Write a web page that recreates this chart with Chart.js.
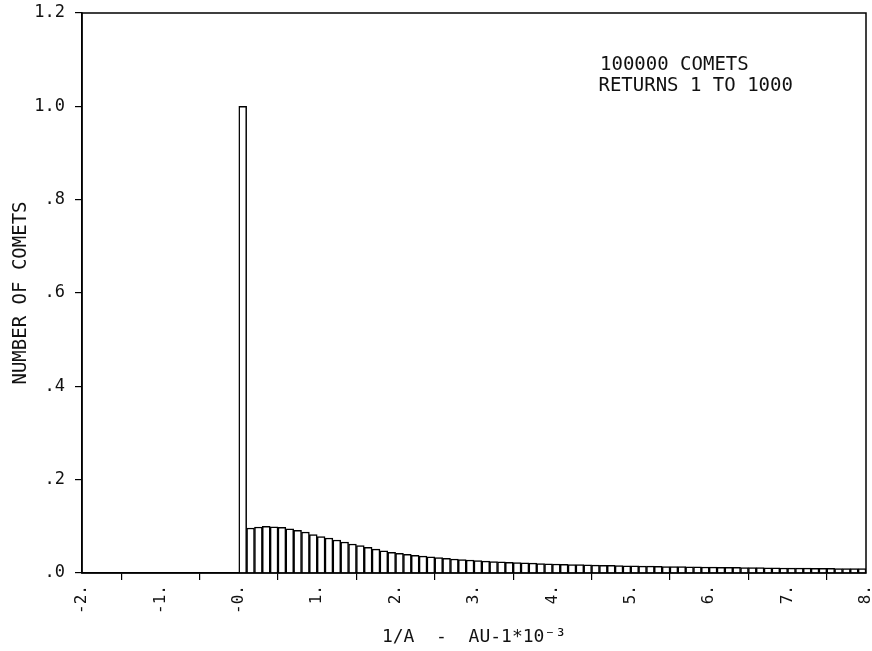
<!DOCTYPE html>
<html>
<head>
<meta charset="utf-8">
<script src="https://cdn.jsdelivr.net/npm/chart.js@4.4.0/dist/chart.umd.min.js"></script>
<style>
    html, body { margin: 0; padding: 0; background: #fff; }
    #wrap { width: 872px; height: 651px; }
</style>
</head>
<body>
<div id="wrap"><canvas id="myChart" width="872" height="651"></canvas></div>
<script>
// bins of 1/a, width 0.1 (AU^-1 * 10^-3), first bin starts at 0
var binStart = 0.0;
var binWidth = 0.1;
var counts = [
    1.000,
    0.0964, 0.0986, 0.0999, 0.0992, 0.0978, 0.0949, 0.0914, 0.0878, 0.0821,
    0.0778, 0.0750, 0.0707, 0.0664, 0.0621, 0.0585, 0.0550, 0.0510, 0.0475, 0.0445,
    0.0420, 0.0400, 0.0378, 0.0362, 0.0348, 0.0330, 0.0315, 0.0300, 0.0290, 0.0278,
    0.0265, 0.0255, 0.0246, 0.0238, 0.0230, 0.0223, 0.0216, 0.0210, 0.0204, 0.0198,
    0.0193, 0.0188, 0.0183, 0.0178, 0.0174, 0.0170, 0.0166, 0.0162, 0.0158, 0.0155,
    0.0152, 0.0149, 0.0146, 0.0143, 0.0140, 0.0137, 0.0135, 0.0133, 0.0130, 0.0128,
    0.0126, 0.0124, 0.0122, 0.0120, 0.0118, 0.0116, 0.0114, 0.0112, 0.0110, 0.0108,
    0.0106, 0.0104, 0.0103, 0.0101, 0.0100, 0.0098, 0.0097, 0.0096, 0.0094, 0.0093
];
var xTicks = [-2, -1, 0, 1, 2, 3, 4, 5, 6, 7, 8];
var yTicks = [0, 0.2, 0.4, 0.6, 0.8, 1.0, 1.2];
var noteLines = ["100000 COMETS", " RETURNS 1 TO 1000"];

var FONT = "'DejaVu Sans Mono', monospace";

var points = counts.map(function (c, i) {
    return { x: binStart + binWidth * (i + 0.5), y: c };
});

// frame round the plot + the text box in the upper right
var framePlugin = {
    id: 'frame',
    afterDraw: function (chart) {
        var a = chart.chartArea;
        var ctx = chart.ctx;
        ctx.save();
        ctx.strokeStyle = '#000';
        ctx.lineWidth = 1.5;
        ctx.strokeRect(a.left, a.top, a.right - a.left, a.bottom - a.top);
        ctx.fillStyle = '#111';
        ctx.font = "19px " + FONT;
        ctx.textBaseline = 'alphabetic';
        ctx.fillText(noteLines[0], a.left + 518, a.top + 57);
        ctx.fillText(noteLines[1], a.left + 505, a.top + 78);
        ctx.restore();
    }
};

new Chart("myChart", {
    type: "bar",
    data: {
        datasets: [{
            data: points,
            backgroundColor: '#fff',
            borderColor: '#000',
            borderWidth: 1.5,
            barPercentage: 1,
            categoryPercentage: 1
        }]
    },
    options: {
        responsive: false,
        animation: false,
        layout: { padding: { top: 13, right: 6, left: 0, bottom: 0 } },
        plugins: {
            legend: { display: false },
            tooltip: { enabled: false }
        },
        scales: {
            x: {
                type: 'linear',
                min: -2,
                max: 8,
                offset: false,
                afterFit: function (s) {
                    s.height = 78;
                    s.paddingLeft = 0;
                    s.paddingRight = 0;
                },
                afterBuildTicks: function (s) {
                    s.ticks = xTicks.map(function (v) { return { value: v }; });
                },
                border: { display: true, color: '#000', width: 1.5 },
                grid: { display: true, drawOnChartArea: false, drawTicks: true, tickLength: 7, color: '#000', lineWidth: 1.2 },
                ticks: {
                    minRotation: 90,
                    maxRotation: 90,
                    padding: 5,
                    color: '#111',
                    font: { family: FONT, size: 16 },
                    callback: function (v) { return v === 0 ? '-0.' : v + '.'; }
                },
                title: {
                    display: true,
                    text: '1/A  -  AU-1*10\u207B\u00B3',
                    color: '#111',
                    font: { family: FONT, size: 18 },
                    padding: 3
                }
            },
            y: {
                min: 0,
                max: 1.2,
                afterFit: function (s) {
                    s.width = 82;
                    s.paddingTop = 0;
                    s.paddingBottom = 0;
                },
                afterBuildTicks: function (s) {
                    s.ticks = yTicks.map(function (v) { return { value: v }; });
                },
                border: { display: true, color: '#000', width: 1.5 },
                grid: { display: true, drawOnChartArea: false, drawTicks: true, tickLength: 7, color: '#000', lineWidth: 1.2 },
                ticks: {
                    padding: 10,
                    color: '#111',
                    font: { family: FONT, size: 17 },
                    callback: function (v) {
                        var t = Math.round(v * 10);
                        return t < 10 ? '.' + t : (t / 10).toFixed(1);
                    }
                },
                title: {
                    display: true,
                    text: 'NUMBER OF COMETS',
                    color: '#111',
                    font: { family: FONT, size: 19 },
                    padding: 10
                }
            }
        }
    },
    plugins: [framePlugin]
});
</script>
</body>
</html>
